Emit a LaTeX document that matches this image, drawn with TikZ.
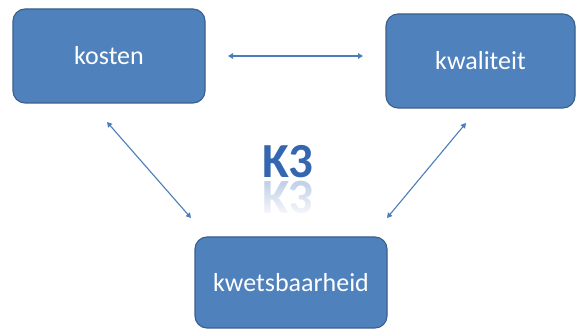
\documentclass[tikz,border=0pt]{standalone}
\usepackage{fontspec}
\setmainfont{Carlito}
\usetikzlibrary{arrows.meta,fadings}
\definecolor{boxfill}{HTML}{4F81BD}
\definecolor{boxline}{HTML}{3A5F8C}
\definecolor{arrowc}{HTML}{4A7EBB}
\definecolor{kthree}{HTML}{3566B0}
\tikzset{
  kbox/.style={draw=boxline, line width=1.1pt, fill=boxfill, rounded corners=12pt,
    text=white, font=\fontsize{26}{30}\selectfont, inner sep=0pt},
  link/.style={draw=arrowc, line width=1.1pt,
    {Triangle[length=5pt,width=5.5pt]}-{Triangle[length=5pt,width=5.5pt]}}
}
\begin{document}
\begin{tikzpicture}[x=1pt,y=1pt]
\useasboundingbox (0,0) rectangle (578,329);
\fill[white] (0,0) rectangle (578,329);
\node[kbox, minimum width=192pt, minimum height=94pt] (kosten) at (109,273) {kosten};
\node[kbox, minimum width=189pt, minimum height=94pt] (kwaliteit) at (480.5,268) {kwaliteit};
\node[kbox, minimum width=192pt, minimum height=91pt] (kwets) at (291,46.5) {kwetsbaarheid};
% K3 and reflection
\node[anchor=base, text=kthree, font=\fontsize{49}{52}\bfseries\selectfont, inner sep=0pt] (k3) at (288,151) {K3};
\node[anchor=base, text=kthree!30, font=\fontsize{49}{52}\bfseries\selectfont, inner sep=0pt, yscale=-1, transform shape] (k3r) at (288,147) {K3};
\fill[white, path fading=north] (252,146) rectangle (325,110);
% connector end points
\coordinate (h1) at (228,273);
\coordinate (h2) at (363,273);
\coordinate (l1) at (107,207);
\coordinate (l2) at (191,111);
\coordinate (r1) at (466,206);
\coordinate (r2) at (387,111);
\draw[link] (h1) -- (h2);
\draw[link] (l1) -- (l2);
\draw[link] (r1) -- (r2);
\end{tikzpicture}
\end{document}
